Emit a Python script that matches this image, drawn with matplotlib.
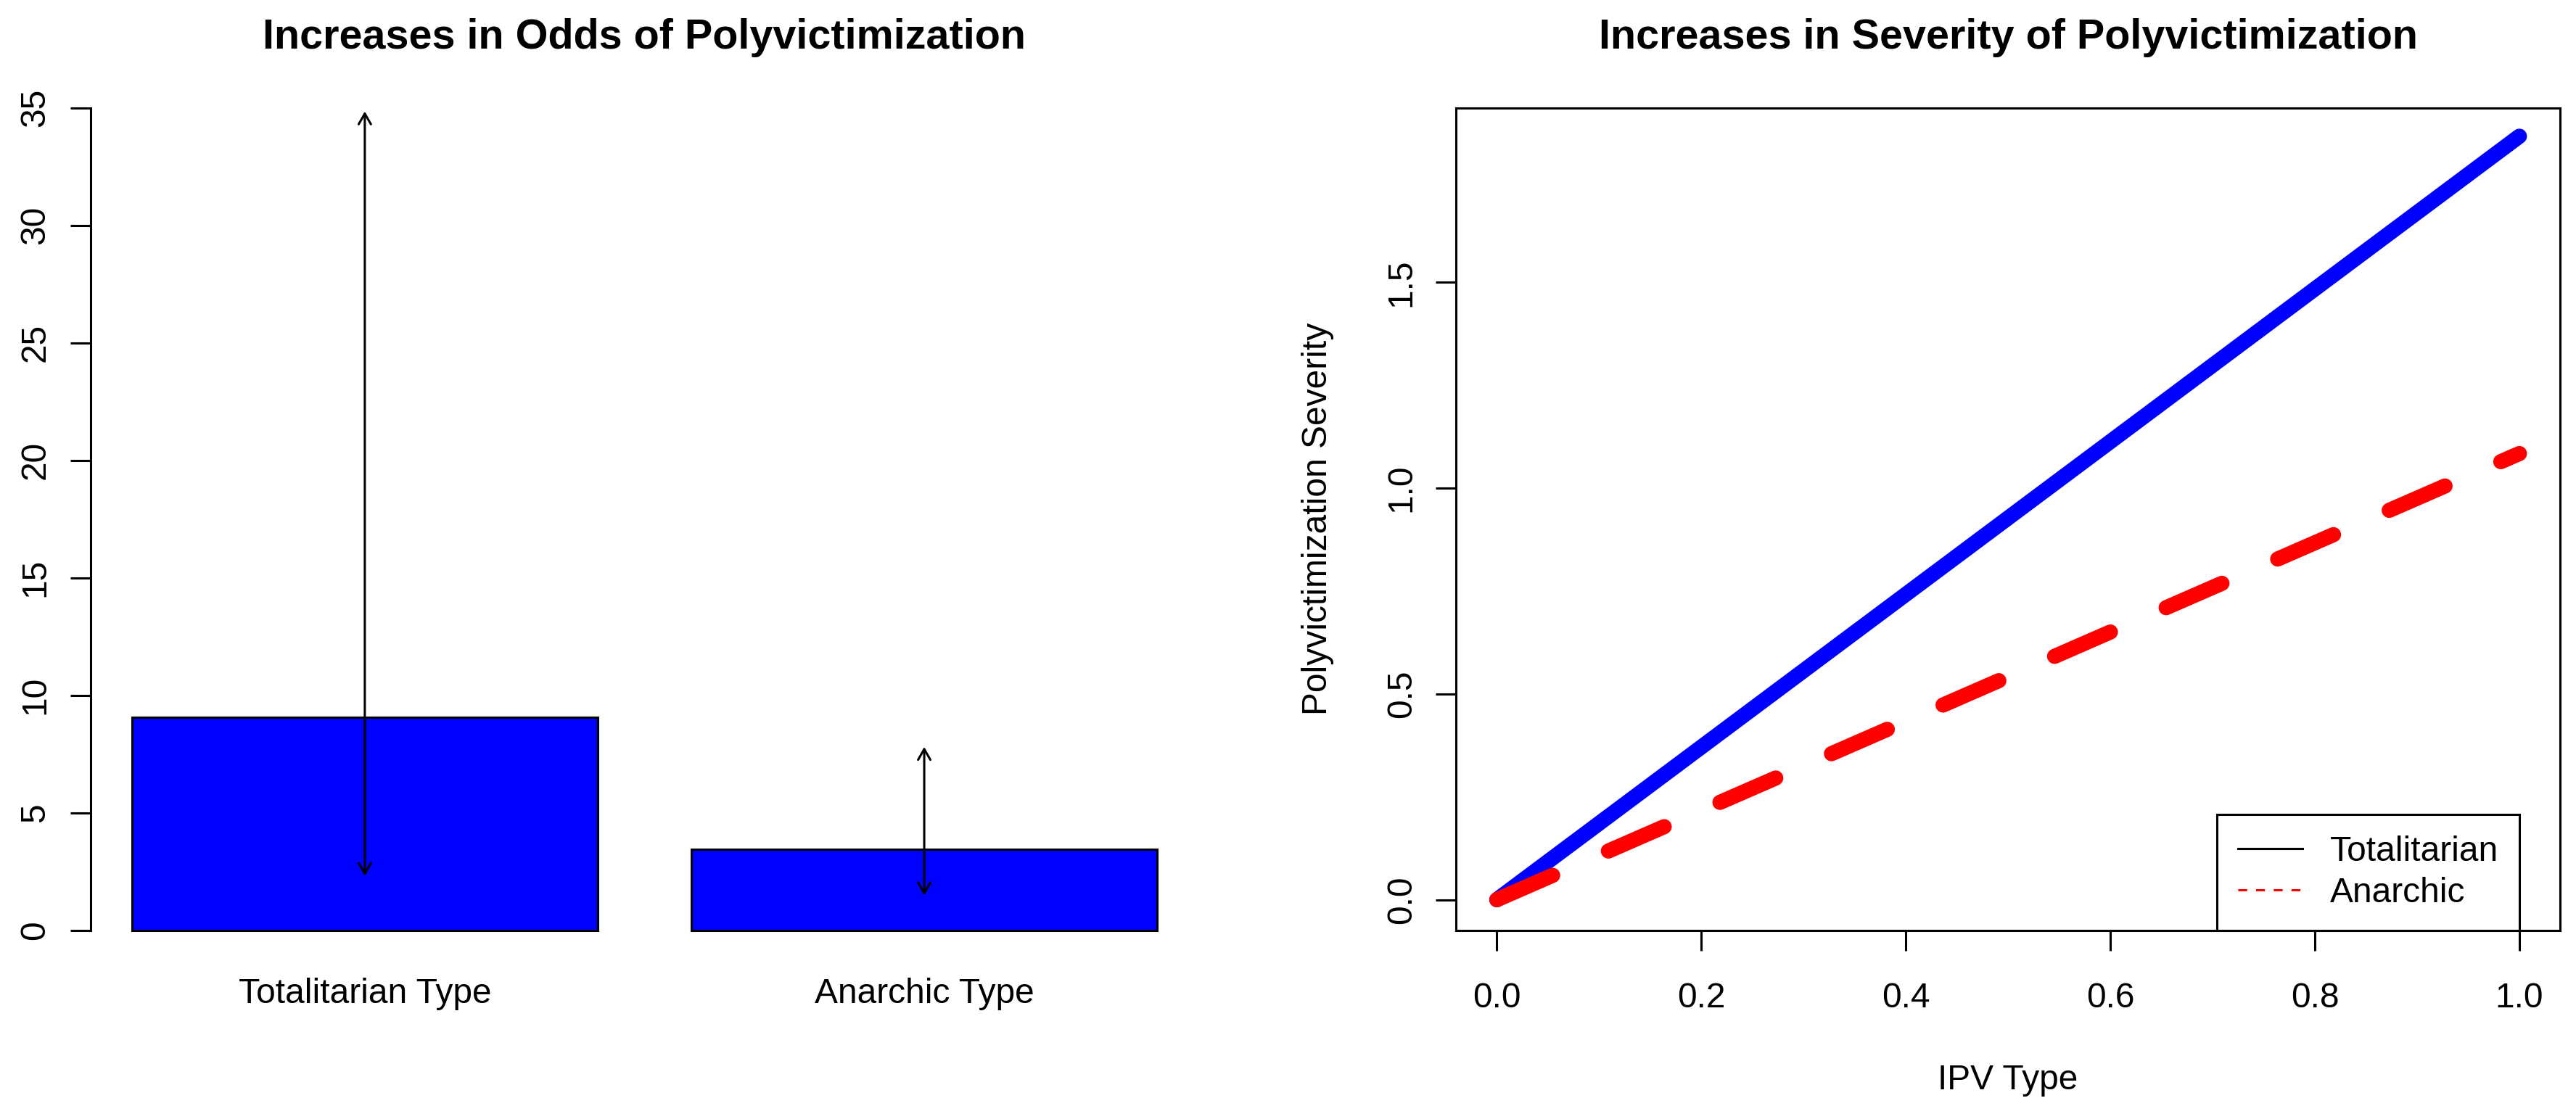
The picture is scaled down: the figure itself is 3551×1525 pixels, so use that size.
import matplotlib
matplotlib.use("Agg")
import matplotlib.pyplot as plt
import numpy as np
from matplotlib.lines import Line2D

plt.rcParams['font.family'] = ['Liberation Sans', 'DejaVu Sans']

# left panel: odds ratios with confidence intervals
ipv_types = ['Totalitarian Type', 'Anarchic Type']
odds = [9.07, 3.45]
ci_low = [2.31, 1.48]
ci_high = [34.85, 7.80]
odds_ticks = [0, 5, 10, 15, 20, 25, 30, 35]

# right panel: predicted severity over IPV type
ipv_x = [0.0, 1.0]
sev_totalitarian = [0.0, 1.855]
sev_anarchic = [0.0, 1.084]
sev_xticks = [0.0, 0.2, 0.4, 0.6, 0.8, 1.0]
sev_yticks = [0.0, 0.5, 1.0, 1.5]

FS = 34.5        # base font size (pt at dpi 100)
LW = 2.2         # thin line width
TICKLEN = 20.2

fig = plt.figure(figsize=(35.51, 15.25), dpi=100)

# ---- left: barplot ----
ax1 = fig.add_axes([0.0352, 0.159, 0.4300, 0.7435])
pos = np.arange(len(ipv_types)) * 1.2 + 0.7
ax1.bar(pos, odds, width=1.0, color='#0000FF', edgecolor='black',
        linewidth=LW, clip_on=False, zorder=2)
for x, lo, hi in zip(pos, ci_low, ci_high):
    ax1.annotate('', xy=(x, hi), xytext=(x, lo),
                 arrowprops=dict(arrowstyle='<->,head_length=10.6,head_width=6.1',
                                 mutation_scale=1, lw=LW, color='black',
                                 shrinkA=0, shrinkB=0),
                 zorder=3, annotation_clip=False)
ax1.set_xlim(0.112, 2.488)
ax1.set_ylim(0, 35)
for s in ['top', 'right', 'bottom']:
    ax1.spines[s].set_visible(False)
ax1.spines['left'].set_linewidth(LW)
ax1.spines['left'].set_bounds(0, 35)
ax1.set_yticks(odds_ticks)
ax1.set_yticklabels([str(t) for t in odds_ticks], rotation=90, va='center')
ax1.set_xticks(pos)
ax1.set_xticklabels(ipv_types)
ax1.tick_params(axis='y', length=TICKLEN, width=LW, pad=18.5, labelsize=FS)
ax1.tick_params(axis='x', length=0, pad=47.5, labelsize=FS)
ax1.set_title('Increases in Odds of Polyvictimization', fontsize=FS * 1.2,
              fontweight='bold', pad=59)

# ---- right: line plot ----
ax2 = fig.add_axes([0.5652, 0.159, 0.4287, 0.7435])
ax2.plot(ipv_x, sev_totalitarian, color='#0000FF', lw=15.1,
         solid_capstyle='round', zorder=2)
red, = ax2.plot(ipv_x, sev_anarchic, color='#FF0000', lw=15.1,
                dash_capstyle='round', zorder=3)
red.set_dashes([4, 4])
ax2.set_xlim(-0.04, 1.04)
ax2.set_ylim(-0.074, 1.924)
for s in ax2.spines.values():
    s.set_linewidth(LW)
ax2.set_xticks(sev_xticks)
ax2.set_xticklabels([f'{t:.1f}' for t in sev_xticks])
ax2.set_yticks(sev_yticks)
ax2.set_yticklabels([f'{t:.1f}' for t in sev_yticks], rotation=90, va='center')
ax2.tick_params(axis='x', length=TICKLEN, width=LW, pad=31, labelsize=FS)
ax2.tick_params(axis='y', length=TICKLEN, width=LW, pad=17.5, labelsize=FS)
ax2.set_xlabel('IPV Type', fontsize=FS, labelpad=49)
ax2.set_ylabel('Polyvictimization Severity', fontsize=FS, labelpad=51)
ax2.set_title('Increases in Severity of Polyvictimization', fontsize=FS * 1.2,
              fontweight='bold', pad=59)

handles = [Line2D([], [], color='black', lw=LW),
           Line2D([], [], color='#FF0000', lw=LW, dashes=[4, 4])]
leg = ax2.legend(handles, ['Totalitarian', 'Anarchic'], loc='lower right',
                 bbox_to_anchor=(1.04 / 1.08, 0.0), borderaxespad=0,
                 fontsize=FS, frameon=True, fancybox=False, framealpha=1,
                 edgecolor='black', handlelength=1.85, handletextpad=0.8,
                 borderpad=0.6, labelspacing=0.25)
leg.get_frame().set_linewidth(LW)

fig.savefig('out.png', dpi=100)
